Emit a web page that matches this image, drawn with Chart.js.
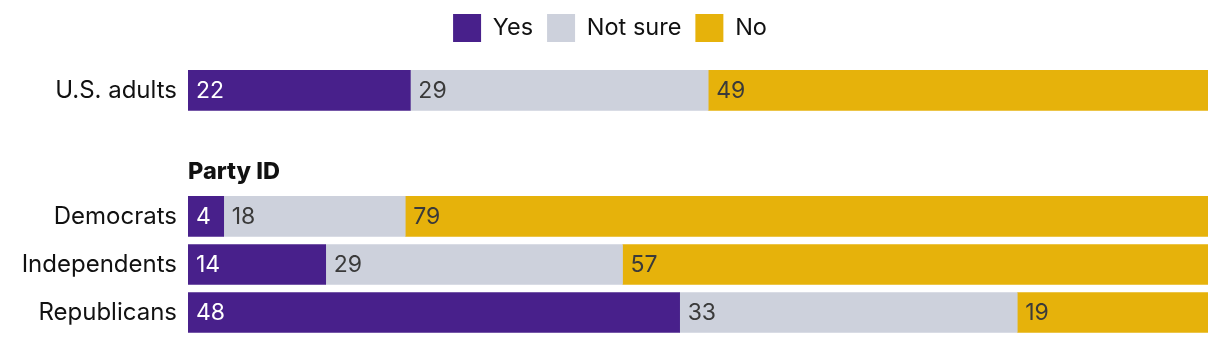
<!DOCTYPE html>
<html>
<head>
<meta charset="utf-8">
<script src="https://cdn.jsdelivr.net/npm/chart.js@4"></script>
<style>
  html, body { margin: 0; padding: 0; background: #ffffff; }
  #wrap { width: 1220px; height: 342px; }
</style>
</head>
<body>
<div id="wrap"><canvas id="c" width="1220" height="342"></canvas></div>
<script>
// ---- data ----
const categories = ["U.S. adults", "Democrats", "Independents", "Republicans"];
const seriesNames = ["Yes", "Not sure", "No"];
const yesValues = [21.8, 3.5, 13.5, 48.2];
const notSureValues = [29.2, 17.8, 29.1, 33.1];
const noValues = [49.0, 78.7, 57.4, 18.7];
const groupHeader = "Party ID";

// ---- layout (row positions on the y scale, in row units) ----
const rowPos = [0, 2.625, 3.625, 4.625];
const headerPos = 1.7;

const colors = { yes: "#48208B", notSure: "#CDD1DC", no: "#E6B20B" };
const FONT = "Inter";
const FS = 23;

function toPoints(vals) { return vals.map((v, i) => ({ x: v, y: rowPos[i] })); }

const valueLabels = {
  id: "valueLabels",
  afterDatasetsDraw(chart) {
    const ctx = chart.ctx;
    ctx.save();
    ctx.font = "400 " + FS + "px " + FONT;
    ctx.textBaseline = "middle";
    ctx.textAlign = "left";
    chart.data.datasets.forEach((ds, di) => {
      const meta = chart.getDatasetMeta(di);
      meta.data.forEach((bar, i) => {
        const left = Math.min(bar.x, bar.base);
        ctx.fillStyle = ds.labelColor;
        ctx.fillText(String(Math.round(ds.data[i].x)), left + 8, bar.y + 1);
      });
    });
    ctx.restore();
  }
};

const headerLabel = {
  id: "headerLabel",
  afterDraw(chart) {
    const ctx = chart.ctx;
    const y = chart.scales.y.getPixelForValue(headerPos);
    ctx.save();
    ctx.font = "800 23.5px " + FONT;
    ctx.fillStyle = "#111111";
    ctx.textBaseline = "middle";
    ctx.textAlign = "left";
    ctx.fillText(groupHeader, chart.chartArea.left, y);
    ctx.restore();
  }
};

function draw() {
  new Chart(document.getElementById("c"), {
    type: "bar",
    data: {
      datasets: [
        { label: seriesNames[0], data: toPoints(yesValues), backgroundColor: colors.yes, labelColor: "#ffffff" },
        { label: seriesNames[1], data: toPoints(notSureValues), backgroundColor: colors.notSure, labelColor: "#3a3a3a" },
        { label: seriesNames[2], data: toPoints(noValues), backgroundColor: colors.no, labelColor: "#3a3a3a" }
      ]
    },
    options: {
      indexAxis: "y",
      responsive: false,
      animation: false,
      events: [],
      barThickness: 40,
      borderWidth: 0,
      layout: { padding: { top: 0, bottom: 6, left: 12, right: 12 } },
      plugins: {
        legend: {
          position: "top",
          align: "center",
          labels: {
            boxWidth: 28,
            boxHeight: 28,
            padding: 14,
            color: "#111111",
            font: { family: FONT, size: 23.5, weight: "400" }
          }
        },
        tooltip: { enabled: false }
      },
      scales: {
        x: {
          type: "linear",
          stacked: true,
          min: 0,
          max: 100,
          display: false
        },
        y: {
          type: "linear",
          stacked: true,
          reverse: true,
          offset: false,
          grace: 0,
          min: -0.80,
          max: 5.115,
          grid: { display: false, drawTicks: false, offset: false },
          border: { display: false },
          afterBuildTicks: (scale) => { scale.ticks = rowPos.map(v => ({ value: v })); },
          afterFit: (scale) => { scale.width = 176; scale.paddingTop = 0; scale.paddingBottom = 0; },
          ticks: {
            autoSkip: false,
            padding: 11,
            color: "#111111",
            font: { family: FONT, size: 24, weight: "400" },
            callback: (v) => { const i = rowPos.indexOf(v); return i >= 0 ? categories[i] : ""; }
          }
        }
      }
    },
    plugins: [valueLabels, headerLabel]
  });
}

if (document.fonts && document.fonts.load) {
  Promise.all([
    document.fonts.load("400 24px " + FONT),
    document.fonts.load("800 24px " + FONT)
  ]).then(draw, draw);
} else {
  draw();
}
</script>
</body>
</html>
